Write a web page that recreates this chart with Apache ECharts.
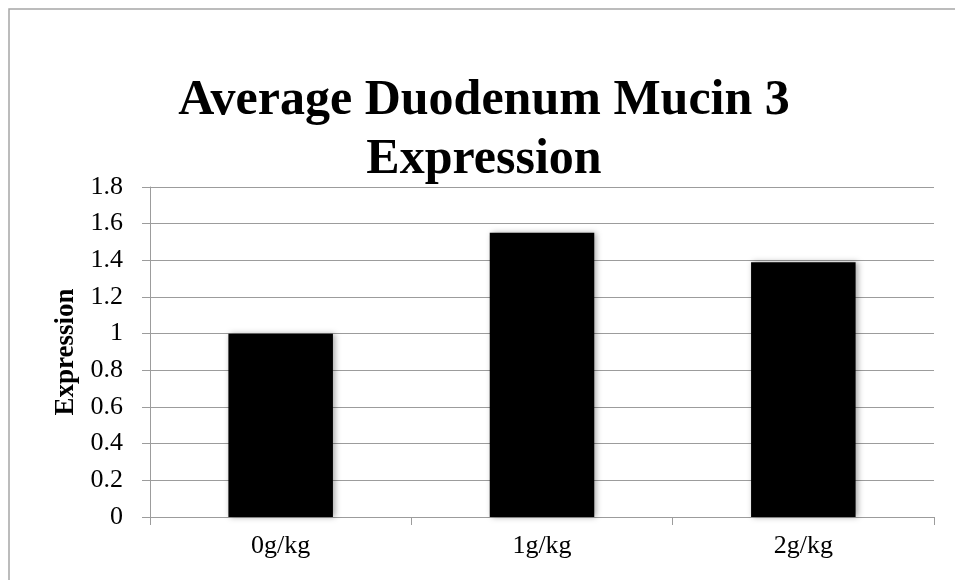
<!DOCTYPE html>
<html>
<head>
<meta charset="utf-8">
<script src="https://cdn.jsdelivr.net/npm/echarts@6/dist/echarts.min.js"></script>
<style>
html,body{margin:0;padding:0;background:#fff;}
#chart{width:955px;height:580px;}
</style>
</head>
<body>
<div id="chart"></div>
<script>
const categories = ['0g/kg', '1g/kg', '2g/kg'];
const values = [1.0, 1.55, 1.39];
const titleText = 'Average Duodenum Mucin 3\nExpression';
const yAxisName = 'Expression';
const yMin = 0, yMax = 1.8, yStep = 0.2;

const serif = '"Liberation Serif", "DejaVu Serif", serif';
const gridGray = '#9c9c9c';

const chart = echarts.init(document.getElementById('chart'), null, {renderer: 'canvas'});
chart.setOption({
  animation: false,
  backgroundColor: '#fff',
  graphic: [{
    type: 'rect',
    shape: {x: 9, y: 9, width: 980, height: 620},
    style: {fill: 'none', stroke: '#a6a6a6', lineWidth: 1.5},
    silent: true
  }],
  title: {
    text: titleText,
    left: 479,
    top: 67,
    textAlign: 'center',
    textStyle: {
      fontFamily: serif,
      fontWeight: 'bold',
      fontSize: 50,
      lineHeight: 59,
      color: '#000'
    }
  },
  grid: {left: 150, right: 21, top: 187, bottom: 63},
  xAxis: {
    type: 'category',
    data: categories,
    axisLine: {show: true, lineStyle: {color: gridGray, width: 1}},
    axisTick: {show: true, length: 8, alignWithLabel: false, lineStyle: {color: gridGray}},
    axisLabel: {fontFamily: serif, fontSize: 26, color: '#000', margin: 16}
  },
  yAxis: {
    type: 'value',
    min: yMin, max: yMax, interval: yStep,
    name: yAxisName,
    nameLocation: 'middle',
    nameGap: 68,
    nameTextStyle: {fontFamily: serif, fontWeight: 'bold', fontSize: 27, color: '#000'},
    axisLine: {show: true, lineStyle: {color: gridGray, width: 1}},
    axisTick: {show: true, length: 8, lineStyle: {color: gridGray}},
    axisLabel: {fontFamily: serif, fontSize: 26, color: '#000', margin: 27},
    splitLine: {show: true, lineStyle: {color: gridGray, width: 1.2}}
  },
  series: [{
    type: 'bar',
    data: values,
    barWidth: '40%',
    itemStyle: {
      color: '#000',
      shadowColor: 'rgba(0,0,0,0.35)',
      shadowBlur: 6,
      shadowOffsetX: 2,
      shadowOffsetY: 0
    }
  }]
});
</script>
</body>
</html>
